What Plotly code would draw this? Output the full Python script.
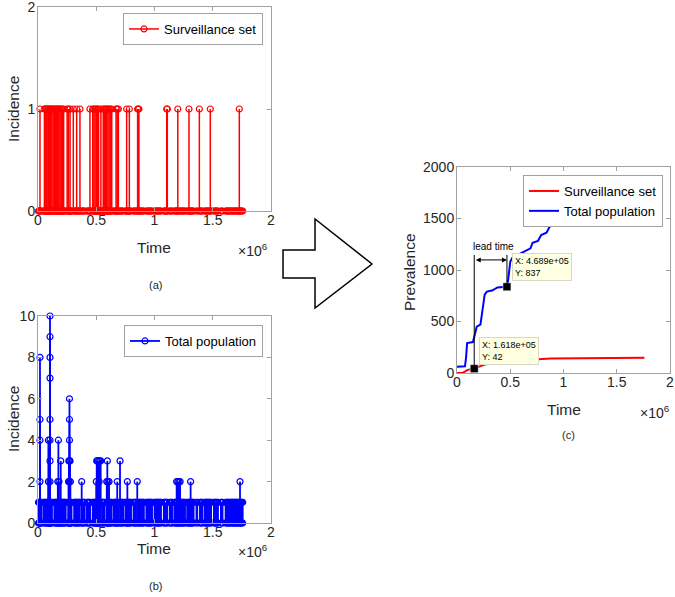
import plotly.graph_objects as go

# ---- data (time in units of 1e6) ----
# panel (a): surveillance set, incidence 1 events
surv_time = [0.017, 0.055, 0.06, 0.068, 0.075, 0.085, 0.09, 0.1, 0.105, 0.112, 0.12, 0.13,
             0.14, 0.15, 0.16, 0.165, 0.175, 0.18, 0.19, 0.2, 0.21, 0.22, 0.25, 0.26, 0.275,
             0.303, 0.332, 0.36, 0.446, 0.47, 0.48, 0.49, 0.5, 0.51, 0.52, 0.54, 0.56, 0.57,
             0.58, 0.59, 0.6, 0.61, 0.62, 0.633, 0.67, 0.68, 0.69, 0.761, 0.784, 0.855, 0.861,
             0.866, 1.105, 1.11, 1.2, 1.296, 1.385, 1.479, 1.728]
surv_inc = [1] * len(surv_time)

# panel (b): total population, incidence 1 events
pop_one_time = [
    0.004, 0.011, 0.018, 0.025, 0.032, 0.05, 0.057, 0.064, 0.071, 0.078, 0.085, 0.092, 0.099,
    0.106, 0.113, 0.12, 0.14, 0.147, 0.154, 0.161, 0.168, 0.175, 0.182, 0.189, 0.196, 0.203,
    0.21, 0.217, 0.224, 0.231, 0.238, 0.26, 0.267, 0.274, 0.281, 0.288, 0.31, 0.317, 0.324,
    0.331, 0.338, 0.345, 0.352, 0.359, 0.38, 0.387, 0.394, 0.401, 0.42, 0.427, 0.434, 0.441,
    0.448, 0.47, 0.477, 0.484, 0.491, 0.498, 0.505, 0.512, 0.519, 0.526, 0.55, 0.557, 0.564,
    0.571, 0.59, 0.597, 0.604, 0.611, 0.618, 0.625, 0.632, 0.65, 0.657, 0.664, 0.671, 0.678,
    0.685, 0.692, 0.71, 0.717, 0.724, 0.731, 0.75, 0.757, 0.764, 0.771, 0.778, 0.785, 0.792,
    0.799, 0.82, 0.827, 0.834, 0.841, 0.86, 0.867, 0.874, 0.881, 0.888, 0.895, 0.902, 0.909,
    0.93, 0.937, 0.944, 0.951, 0.958, 0.965, 0.972, 0.979, 1.0, 1.007, 1.014, 1.021, 1.028,
    1.035, 1.042, 1.049, 1.056, 1.08, 1.087, 1.094, 1.101, 1.108, 1.13, 1.137, 1.144, 1.151,
    1.17, 1.177, 1.184, 1.191, 1.198, 1.22, 1.227, 1.234, 1.241, 1.248, 1.255, 1.262, 1.28,
    1.287, 1.294, 1.301, 1.308, 1.315, 1.322, 1.329, 1.336, 1.36, 1.367, 1.39, 1.397, 1.404,
    1.411, 1.43, 1.437, 1.444, 1.451, 1.458, 1.465, 1.472, 1.479, 1.486, 1.51, 1.517, 1.524,
    1.531, 1.538, 1.545, 1.57, 1.577, 1.584, 1.61, 1.617, 1.624, 1.631, 1.638, 1.645, 1.652,
    1.659, 1.666, 1.673, 1.68, 1.687, 1.694, 1.701, 1.708, 1.715, 1.722, 1.729, 1.736, 1.743,
    1.75, 1.757]
pop_one_inc = [1] * len(pop_one_time)

# panel (b): larger incidence spikes
pop_spike_time = [0.017, 0.017, 0.017, 0.017, 0.089, 0.089,
                  0.103, 0.103, 0.103, 0.103, 0.103, 0.103, 0.103, 0.103,
                  0.175, 0.17, 0.18, 0.195, 0.265, 0.27, 0.27, 0.27, 0.27, 0.275,
                  0.262, 0.268, 0.278, 0.375, 0.504, 0.51, 0.52, 0.53, 0.538, 0.5, 0.525,
                  0.595, 0.59, 0.6, 0.61, 0.68, 0.704, 0.767, 0.852,
                  1.19, 1.2, 1.21, 1.22, 1.31, 1.734]
pop_spike_inc = [8, 5, 4, 2, 4, 2,
                 10, 9, 8, 7, 5, 4, 3, 2,
                 4, 2, 2, 3, 3, 6, 5, 4, 3, 3,
                 2, 2, 2, 2, 3, 3, 3, 3, 3, 2, 2,
                 3, 2, 2, 2, 2, 3, 2, 2,
                 2, 2, 2, 2, 2, 2]

# panel (c): cumulative prevalence
prev_time_red = [0, 0.05, 0.07, 0.09, 0.12, 0.1618, 0.19, 0.22, 0.26, 0.3, 0.36, 0.45, 0.55,
                 0.62, 0.7, 0.8, 0.88, 1.0, 1.2, 1.5, 1.76]
prev_surv = [0, 0, 10, 25, 35, 42, 55, 70, 83, 90, 96, 104, 115, 122, 128, 136, 140, 141,
             143, 145, 147]
prev_time_blue = [0, 0.075, 0.085, 0.095, 0.15, 0.165, 0.185, 0.22, 0.24, 0.26, 0.28, 0.33,
                  0.38, 0.4689, 0.48, 0.5, 0.52, 0.56, 0.62, 0.66, 0.69, 0.71, 0.76, 0.79,
                  0.84, 0.87, 0.89, 0.93, 1.09, 1.12, 1.16, 1.19, 1.22, 1.3, 1.45, 1.6, 1.76]
prev_total = [60, 65, 150, 290, 300, 380, 450, 470, 600, 760, 790, 800, 830, 837, 900, 1080,
              1120, 1140, 1168, 1190, 1211, 1265, 1282, 1340, 1362, 1420, 1459, 1468, 1476,
              1515, 1525, 1541, 1570, 1620, 1680, 1730, 1760]

# data tips
tip_x = [0.1618, 0.4689]
tip_y = [42, 837]
tip_text = ["X: 1.618e+05<br>Y: 42", "X: 4.689e+05<br>Y: 837"]

x_ticks = [0, 0.5, 1, 1.5, 2]
x_tick_text = ["0", "0.5", "1", "1.5", "2"]

W, H = 675, 597
FONT = "Liberation Sans, Arial, sans-serif"
TXT = "#262626"
RED = "#ff0000"
BLUE = "#0000ff"


def px(x, y):
    return x / W, 1 - y / H


def stems(times, vals):
    xs, ys = [], []
    for t, v in zip(times, vals):
        xs += [t, t, None]
        ys += [0, v, None]
    return xs, ys


sample_grid = sorted(set(pop_one_time + pop_spike_time))

fig = go.Figure()

# ---- (a) surveillance incidence ----
fig.add_trace(go.Scatter(x=[sample_grid[0], sample_grid[-1]], y=[0, 0], mode="lines",
                         line=dict(color=RED, width=5), showlegend=False,
                         xaxis="x", yaxis="y", hoverinfo="skip"))
fig.add_trace(go.Scatter(x=sample_grid, y=[0] * len(sample_grid), mode="markers",
                         marker=dict(symbol="circle-open", size=6, color=RED, line=dict(width=1.2)),
                         showlegend=False, cliponaxis=False, xaxis="x", yaxis="y"))
sx, sy = stems(surv_time, surv_inc)
fig.add_trace(go.Scatter(x=sx, y=sy, mode="lines+markers", name="Surveillance set",
                         line=dict(color=RED, width=1.5),
                         marker=dict(symbol="circle-open", size=6, color=RED, line=dict(width=1.2)),
                         cliponaxis=False, xaxis="x", yaxis="y", legend="legend"))

# ---- (b) total population incidence ----
fig.add_trace(go.Scatter(x=[sample_grid[0], sample_grid[-1]], y=[0, 0], mode="lines",
                         line=dict(color=BLUE, width=5), showlegend=False,
                         xaxis="x2", yaxis="y2", hoverinfo="skip"))
bx, by = stems(pop_one_time + pop_spike_time, pop_one_inc + pop_spike_inc)
fig.add_trace(go.Scatter(x=bx, y=by, mode="lines+markers", name="Total population",
                         line=dict(color=BLUE, width=1.8),
                         marker=dict(symbol="circle-open", size=6, color=BLUE, line=dict(width=1.2)),
                         cliponaxis=False, xaxis="x2", yaxis="y2", legend="legend2"))

# ---- (c) prevalence ----
fig.add_trace(go.Scatter(x=prev_time_red, y=prev_surv, mode="lines", name="Surveillance set",
                         line=dict(color=RED, width=2), xaxis="x3", yaxis="y3", legend="legend3"))
fig.add_trace(go.Scatter(x=prev_time_blue, y=prev_total, mode="lines", name="Total population",
                         line=dict(color=BLUE, width=2), xaxis="x3", yaxis="y3", legend="legend3"))
fig.add_trace(go.Scatter(x=tip_x, y=tip_y, mode="markers", showlegend=False,
                         marker=dict(symbol="square", size=8, color="black",
                                     line=dict(color="white", width=0.5)),
                         cliponaxis=False, xaxis="x3", yaxis="y3"))

lead_top = 1146
lead_arrow = 1098
for tx, ty in zip(tip_x, tip_y):
    fig.add_shape(type="line", xref="x3", yref="y3", x0=tx, x1=tx, y0=ty, y1=lead_top,
                  line=dict(color="black", width=1))

annotations = []
annotations.append(dict(xref="x3", yref="y3", axref="x3", ayref="y3",
                        x=tip_x[1], y=lead_arrow, ax=tip_x[0], ay=lead_arrow, text="",
                        showarrow=True, arrowside="end+start", arrowhead=2, arrowsize=1,
                        arrowwidth=1, arrowcolor="black", standoff=0, startstandoff=0))
annotations.append(dict(xref="x3", yref="y3", x=0.345, y=1225, text="lead time",
                        showarrow=False, font=dict(size=10, color="black", family=FONT)))
tip_box = [(0.207, 348), (0.516, 1166)]
for (bxp, byp), t in zip(tip_box, tip_text):
    annotations.append(dict(xref="x3", yref="y3", x=bxp, y=byp, text=t, showarrow=False,
                            xanchor="left", yanchor="top", align="left",
                            bgcolor="#ffffe1", bordercolor="#d8d8c8", borderwidth=1, borderpad=2,
                            font=dict(size=9, color="black", family=FONT)))

# axis labels, exponent labels, panel captions (pixel positions)
def lab(x, y, text, size, angle=0, xanchor="center"):
    X, Y = px(x, y)
    annotations.append(dict(xref="paper", yref="paper", x=X, y=Y, text=text, showarrow=False,
                            textangle=angle, xanchor=xanchor, yanchor="middle",
                            font=dict(size=size, color=TXT, family=FONT)))

lab(154, 247, "Time", 15.5)
lab(270, 250, "×10<sup>6</sup>", 14, xanchor="right")
lab(14, 109, "Incidence", 15.5, angle=-90)
lab(155, 285, "(a)", 11)
lab(154, 548, "Time", 15.5)
lab(270, 551, "×10<sup>6</sup>", 14, xanchor="right")
lab(13, 419, "Incidence", 15.5, angle=-90)
lab(155, 586, "(b)", 11)
lab(564, 409, "Time", 15.5)
lab(672, 412, "×10<sup>6</sup>", 14, xanchor="right")
lab(409, 272, "Prevalence", 15.5, angle=-90)
lab(568, 435, "(c)", 11)

# big hollow arrow between panels
arrow_pts = [(283, 250), (315, 250), (315, 219), (372, 264), (315, 308), (315, 278), (283, 278)]
path = "M " + " L ".join("%.4f,%.4f" % px(x, y) for x, y in arrow_pts) + " Z"
fig.add_shape(type="path", xref="paper", yref="paper", path=path,
              line=dict(color="black", width=1.5), fillcolor="white")

axis_style = dict(showline=True, linecolor="#a0a0a0", linewidth=1, mirror="ticks",
                  ticks="inside", ticklen=4, tickcolor="#a0a0a0", showgrid=False,
                  zeroline=False, automargin=False, ticklabeloverflow="allow",
                  tickfont=dict(size=14, color=TXT, family=FONT))
x_style = dict(axis_style, ticklabelstandoff=-4)
y_style = dict(axis_style, ticklabelstandoff=-1)

xa = px(38, 0)[0], px(271, 0)[0]
xc = px(457, 0)[0], px(670, 0)[0]
ya = px(0, 211)[1], px(0, 7)[1]
yb = px(0, 523)[1], px(0, 316)[1]
yc = px(0, 373)[1], px(0, 167)[1]

legend_style = dict(bgcolor="white", bordercolor="#a0a0a0", borderwidth=1,
                    font=dict(size=13, color="black", family=FONT),
                    xanchor="right", yanchor="top", itemwidth=30, tracegroupgap=0)

fig.update_layout(
    width=W, height=H, margin=dict(l=0, r=0, t=0, b=0, autoexpand=False),
    paper_bgcolor="white", plot_bgcolor="white", showlegend=True,
    xaxis=dict(domain=xa, anchor="y", range=[0, 2], tickvals=x_ticks, ticktext=x_tick_text, **x_style),
    yaxis=dict(domain=ya, anchor="x", range=[0, 2], tickvals=[0, 1, 2], **y_style),
    xaxis2=dict(domain=xa, anchor="y2", range=[0, 2], tickvals=x_ticks, ticktext=x_tick_text, **x_style),
    yaxis2=dict(domain=yb, anchor="x2", range=[0, 10], tickvals=[0, 2, 4, 6, 8, 10], **y_style),
    xaxis3=dict(domain=xc, anchor="y3", range=[0, 2], tickvals=x_ticks, ticktext=x_tick_text, **x_style),
    yaxis3=dict(domain=yc, anchor="x3", range=[0, 2000], tickvals=[0, 500, 1000, 1500, 2000], **y_style),
    legend=dict(x=px(263, 0)[0], y=px(0, 13)[1], **legend_style),
    legend2=dict(x=px(263, 0)[0], y=px(0, 325)[1], **legend_style),
    legend3=dict(x=px(663, 0)[0], y=px(0, 175)[1], **legend_style),
    annotations=annotations,
)

# page body has a default margin; remove it so the figure sits at the window origin
fig.write_html("out.html", config={"displayModeBar": False},
               post_script="document.body.style.margin='0px';")
